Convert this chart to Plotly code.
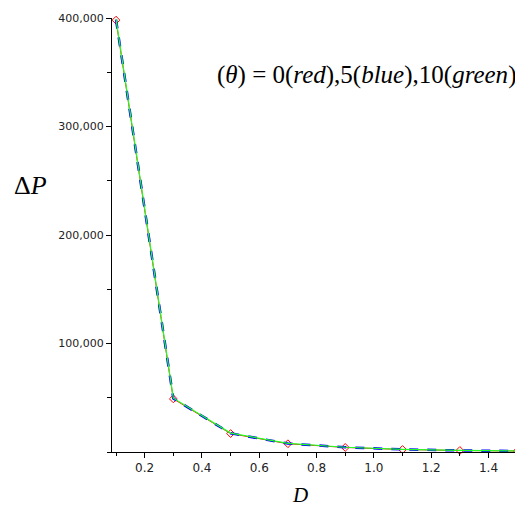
import plotly.graph_objects as go

# D values and pressure drop for each theta
D = [0.1, 0.3, 0.5, 0.7, 0.9, 1.1, 1.3, 1.5]
dp_theta0 = [398000, 49000, 17000, 7600, 4200, 2300, 1400, 900]
dp_theta5 = [398500, 49300, 17200, 7800, 4300, 2400, 1450, 950]
dp_theta10 = [399000, 49600, 17400, 8000, 4400, 2500, 1500, 1000]

x_ticks = [0.2, 0.4, 0.6, 0.8, 1.0, 1.2, 1.4]
y_ticks = [100000, 200000, 300000, 400000]

fig = go.Figure()

fig.add_trace(go.Scatter(
    x=D, y=dp_theta0, mode='lines+markers', name='theta=0',
    line=dict(color='red', width=1),
    marker=dict(symbol='diamond-open', size=6, color='red'),
    cliponaxis=False
))
fig.add_trace(go.Scatter(
    x=D, y=dp_theta5, mode='lines', name='theta=5',
    line=dict(color='blue', width=2.5, dash='dash'),
    cliponaxis=False
))
fig.add_trace(go.Scatter(
    x=D, y=dp_theta10, mode='lines', name='theta=10',
    line=dict(color='#22ff22', width=1.2),
    cliponaxis=False
))

axis_font = dict(family='DejaVu Sans', size=11, color='#222222')
serif = 'Liberation Serif'

# page body has an 8px margin, so the figure is sized/offset to compensate
fig.update_layout(
    width=515, height=498,
    margin=dict(l=104, r=5, t=10, b=54),
    paper_bgcolor='white', plot_bgcolor='white',
    showlegend=False,
    xaxis=dict(
        range=[0.086, 1.503], tickvals=x_ticks,
        ticktext=[f'{v:.1f}' for v in x_ticks],
        showgrid=False, zeroline=False,
        showline=True, linecolor='black', linewidth=1,
        ticks='outside', ticklen=5, tickcolor='black',
        tickfont=dict(family='DejaVu Sans', size=12, color='#222222'),
        minor=dict(ticks='outside', ticklen=3, dtick=0.1, tick0=0.1, tickcolor='black'),
    ),
    yaxis=dict(
        range=[0, 400000], tickvals=y_ticks, tickformat=',d',
        showgrid=False, zeroline=False,
        showline=True, linecolor='black', linewidth=1,
        ticks='outside', ticklen=5, tickcolor='black',
        tickfont=axis_font,
        minor=dict(ticks='outside', ticklen=4, dtick=50000, tick0=0, tickcolor='black'),
    ),
    annotations=[
        dict(text='Δ<i>P</i>', x=-0.2, y=0.615, xref='paper', yref='paper',
             xanchor='center', yanchor='middle',
             showarrow=False, font=dict(family=serif, size=26, color='black')),
        dict(text='(<i>θ</i>) = 0(<i>red</i>),5(<i>blue</i>),10(<i>green</i>)',
             x=1.0, y=0.869, xref='paper', yref='paper', xanchor='right', yanchor='middle',
             showarrow=False, font=dict(family=serif, size=25, color='black')),
        dict(text='<i>D</i>', x=0.463, y=-0.099, xref='paper', yref='paper',
             xanchor='center', yanchor='middle',
             showarrow=False, font=dict(family=serif, size=21, color='black')),
    ],
)

fig.write_html("out.html")
